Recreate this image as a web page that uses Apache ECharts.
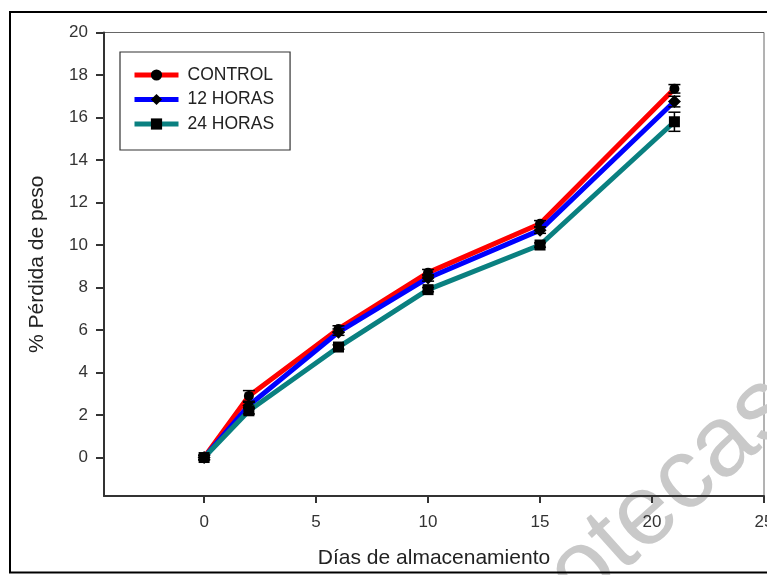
<!DOCTYPE html>
<html>
<head>
<meta charset="utf-8">
<script src="https://cdn.jsdelivr.net/npm/echarts@6/dist/echarts.min.js"></script>
<style>html,body{margin:0;padding:0;background:#fff;}#c{width:767px;height:575px;}</style>
</head>
<body>
<div id="c"></div>
<script>
const days = [0, 2, 6, 10, 15, 21];
const seriesNames = ['CONTROL', '12 HORAS', '24 HORAS'];
const control = [0, 2.9, 6.05, 8.7, 11.0, 17.35];
const horas12 = [0, 2.45, 5.9, 8.45, 10.7, 16.75];
const horas24 = [0, 2.2, 5.2, 7.9, 10.0, 15.8];
const errControl = [0.1, 0.25, 0.15, 0.15, 0.15, 0.2];
const errHoras12 = [0.1, 0.15, 0.15, 0.15, 0.15, 0.25];
const errHoras24 = [0.1, 0.15, 0.1, 0.1, 0.1, 0.45];
const xTicks = [0, 5, 10, 15, 20, 25];
const yTicks = [0, 2, 4, 6, 8, 10, 12, 14, 16, 18, 20];

const colors = ['#ff0000', '#0000ff', '#0a8080'];
const symbols = ['circle', 'diamond', 'rect'];
const symSizes = [10, 13, 11];
const values = [control, horas12, horas24];
const errs = [errControl, errHoras12, errHoras24];

const chart = echarts.init(document.getElementById('c'));
const font = 'Liberation Sans, Arial, sans-serif';

const lineSeries = seriesNames.map((n, i) => ({
  name: n,
  type: 'line',
  data: days.map((d, j) => [d, values[i][j]]),
  symbol: symbols[i],
  symbolSize: symSizes[i],
  itemStyle: { color: '#000' },
  lineStyle: { color: colors[i], width: 5 },
  z: 3 + i
}));

const errSeries = seriesNames.map((n, i) => ({
  type: 'custom',
  silent: true,
  z: 10,
  data: days.map((d, j) => [d, values[i][j] - errs[i][j], values[i][j] + errs[i][j]]),
  renderItem: function (params, api) {
    const lo = api.coord([api.value(0), api.value(1)]);
    const hi = api.coord([api.value(0), api.value(2)]);
    const w = 6;
    const st = { stroke: '#000', lineWidth: 1.5 };
    return {
      type: 'group',
      children: [
        { type: 'line', shape: { x1: lo[0], y1: lo[1], x2: hi[0], y2: hi[1] }, style: st },
        { type: 'line', shape: { x1: lo[0] - w, y1: lo[1], x2: lo[0] + w, y2: lo[1] }, style: st },
        { type: 'line', shape: { x1: hi[0] - w, y1: hi[1], x2: hi[0] + w, y2: hi[1] }, style: st }
      ]
    };
  }
}));

chart.setOption({
  animation: false,
  backgroundColor: '#fff',
  textStyle: { fontFamily: font },
  grid: { left: 104, top: 32.5, right: 3, bottom: 79, outerBoundsMode: 'none', containLabel: false, show: true, borderColor: '#666', borderWidth: 1, backgroundColor: 'transparent' },
  legend: {
    orient: 'vertical',
    left: 120, top: 52,
    padding: [14, 16, 17, 12],
    itemWidth: 44, itemHeight: 14, itemGap: 6.5,
    borderColor: '#333', borderWidth: 1.2,
    lineStyle: { width: 5 },
    data: seriesNames,
    textStyle: { fontSize: 17.5, lineHeight: 16, color: '#222', fontFamily: font, padding: [0, 0, 0, 4] }
  },
  xAxis: {
    type: 'value', min: -4.47, max: 25,
    name: 'Días de almacenamiento', nameLocation: 'middle', nameGap: 51.5,
    nameTextStyle: { fontSize: 21, color: '#222', fontFamily: font },
    axisLine: { show: true, onZero: false, lineStyle: { color: '#333', width: 2 } },
    axisTick: { show: true, customValues: xTicks, length: 7, lineStyle: { color: '#333', width: 2 } },
    axisLabel: { customValues: xTicks, margin: 18, fontSize: 17, color: '#333', fontFamily: font },
    splitLine: { show: false }
  },
  yAxis: {
    type: 'value', min: -1.81, max: 20,
    name: '% Pérdida de peso', nameLocation: 'middle', nameGap: 56.5, nameRotate: 90,
    nameTextStyle: { fontSize: 21, color: '#222', fontFamily: font },
    axisLine: { show: true, onZero: false, lineStyle: { color: '#333', width: 2 } },
    axisTick: { show: true, customValues: yTicks, length: 8, lineStyle: { color: '#333', width: 2 } },
    axisLabel: { customValues: yTicks, margin: 16, fontSize: 17, color: '#333', fontFamily: font },
    splitLine: { show: false }
  },
  graphic: [
    { type: 'rect', z: 100, silent: true, shape: { x: 10, y: 12, width: 800, height: 560.5 }, style: { fill: 'none', stroke: '#000', lineWidth: 2 } },
    { type: 'text', z: 0, silent: true, x: 562, y: 590, rotation: 0.73, style: { text: 'otecas', font: '100px ' + font, fill: '#c9c9c9', textVerticalAlign: 'middle' } }
  ],
  series: lineSeries.concat(errSeries)
});
</script>
</body>
</html>
